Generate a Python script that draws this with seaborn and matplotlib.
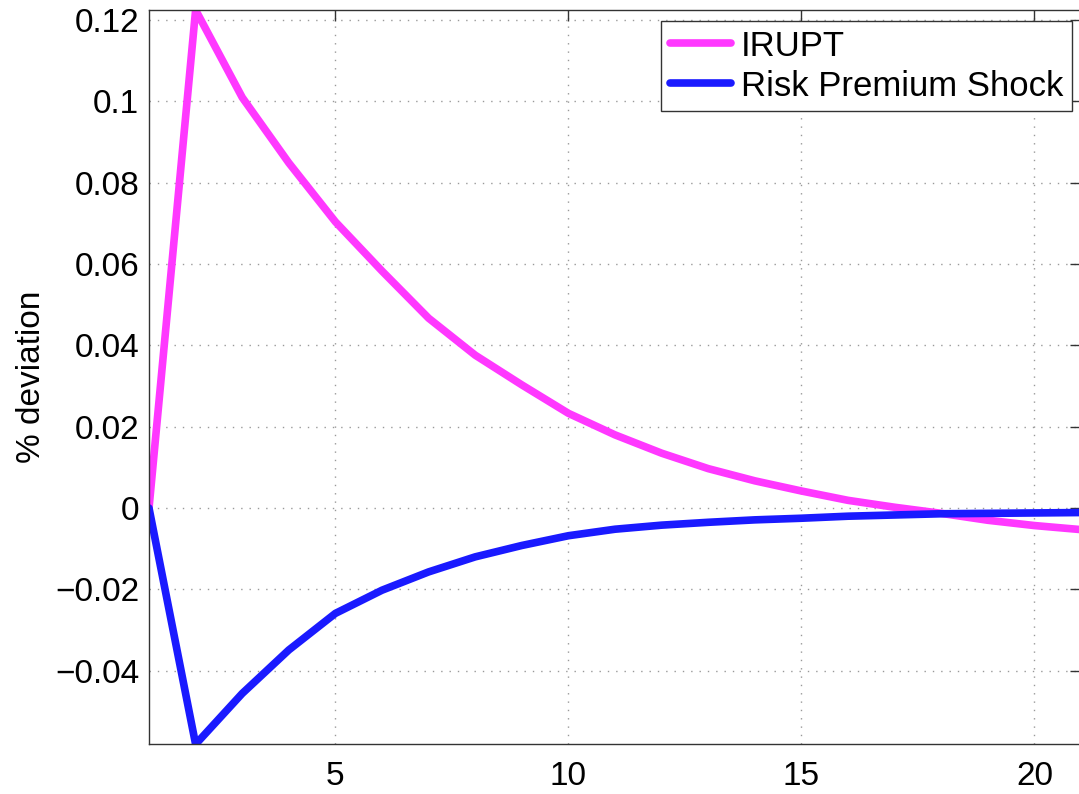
import numpy as np
import pandas as pd
import matplotlib
matplotlib.use("Agg")
import matplotlib.pyplot as plt
import seaborn as sns
from matplotlib.lines import Line2D

# ---- data ----
periods = list(range(1, 22))
irupt = [0.0, 0.1225, 0.1010, 0.0849, 0.0704, 0.0583, 0.0467, 0.0376, 0.0303,
         0.0233, 0.0180, 0.0135, 0.0097, 0.0067, 0.0042, 0.0019, 0.0002,
         -0.0013, -0.0030, -0.0043, -0.0053]
risk_premium = [0.0, -0.0581, -0.0456, -0.0349, -0.0259, -0.0202, -0.0157,
                -0.0120, -0.0092, -0.0068, -0.0052, -0.0042, -0.0035, -0.0029,
                -0.0025, -0.0020, -0.0017, -0.0014, -0.0013, -0.0012, -0.0011]
series_names = ["IRUPT", "Risk Premium Shock"]
series_colors = ["#ff38ff", "#1a1aff"]
y_ticks = [-0.04, -0.02, 0.0, 0.02, 0.04, 0.06, 0.08, 0.1, 0.12]
y_tick_labels = ["\u22120.04", "\u22120.02", "0", "0.02", "0.04", "0.06", "0.08", "0.1", "0.12"]
x_ticks = [5, 10, 15, 20]
y_label = "% deviation"

df = pd.DataFrame({
    "period": periods * 2,
    "value": irupt + risk_premium,
    "series": [series_names[0]] * len(periods) + [series_names[1]] * len(periods),
})

sns.set_style("white")
plt.rcParams["font.family"] = ["Liberation Sans", "DejaVu Sans"]
plt.rcParams["text.color"] = "black"
plt.rcParams["axes.labelcolor"] = "black"
plt.rcParams["xtick.labelcolor"] = "black"
plt.rcParams["ytick.labelcolor"] = "black"

fig = plt.figure(figsize=(10.79, 7.94), dpi=100)
ax = fig.add_axes([0.1381, 0.0626, 0.8638, 0.9248])

sns.lineplot(data=df, x="period", y="value", hue="series",
             palette=dict(zip(series_names, series_colors)),
             linewidth=5.5, ax=ax, legend=False, sort=False)
for ln in ax.get_lines():
    ln.set_solid_joinstyle("round")
    ln.set_solid_capstyle("round")

ax.set_xlim(1, 21)
ax.set_ylim(-0.0581, 0.1225)
ax.set_xticks(x_ticks)
ax.set_xticklabels([str(t) for t in x_ticks])
ax.set_yticks(y_ticks)
ax.set_yticklabels(y_tick_labels)
ax.set_xlabel("")
ax.set_ylabel(y_label, fontsize=24, labelpad=6, color="black")

ax.grid(True, linestyle=(0, (1, 5)), color="#999999", linewidth=1.0)
ax.tick_params(axis="both", which="major", direction="in", length=8, width=1,
               labelsize=24, top=True, right=True, color="#333333",
               labelcolor="black")
ax.tick_params(axis="y", pad=7)
ax.tick_params(axis="x", pad=12)
for sp in ax.spines.values():
    sp.set_visible(True)
    sp.set_color("#333333")
    sp.set_linewidth(1.0)

handles = [Line2D([0], [0], color=c, linewidth=5.5) for c in series_colors]
leg = ax.legend(handles, series_names, loc="upper right",
                bbox_to_anchor=(0.9935, 0.9736), bbox_transform=fig.transFigure,
                borderaxespad=0, fontsize=25, frameon=True, fancybox=False,
                framealpha=1, edgecolor="#333333", handlelength=1.75,
                handletextpad=0.3, labelspacing=0.2, borderpad=0.25,
                labelcolor="black")
leg.get_frame().set_linewidth(1.0)

fig.savefig("out.png", dpi=100)
